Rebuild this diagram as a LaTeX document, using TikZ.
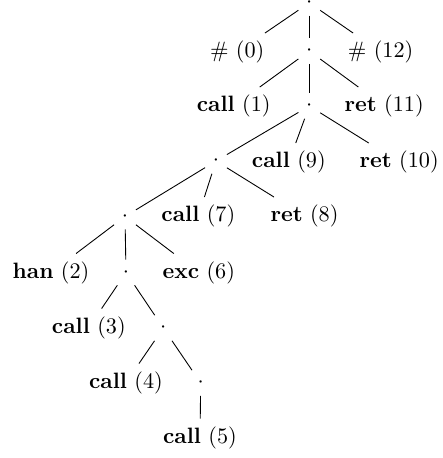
\documentclass[tikz,border=0pt]{standalone}
\begin{document}
\begin{tikzpicture}[x=0.45pt,y=-0.45pt,
  lbl/.style={inner sep=3.33pt},
  dotn/.style={inner sep=3.33pt},
  edge/.style={draw,line width=0.4pt}]
\useasboundingbox (0,0) rectangle (443,458);
% level 0
\node[dotn] (r) at (309.3,2.8) {$\cdot$};
% level 1
\node[lbl] (n0) at (237.2,52) {\# (0)};
\node[dotn] (d1) at (309.3,51) {$\cdot$};
\node[lbl] (n12) at (380.6,52) {\# (12)};
% level 2
\node[lbl] (c1) at (233.7,106) {\textbf{call} (1)};
\node[dotn] (d2) at (309.3,106) {$\cdot$};
\node[lbl] (r11) at (384.2,106) {\textbf{ret} (11)};
% level 3
\node[dotn] (d3) at (216,161) {$\cdot$};
\node[lbl] (c9) at (288.8,162) {\textbf{call} (9)};
\node[lbl] (r10) at (399.2,162) {\textbf{ret} (10)};
% level 4
\node[dotn] (d4) at (125,216.5) {$\cdot$};
\node[lbl] (c7) at (198.3,216) {\textbf{call} (7)};
\node[lbl] (r8) at (304.5,216) {\textbf{ret} (8)};
% level 5
\node[lbl] (h2) at (51,272.5) {\textbf{han} (2)};
\node[dotn] (d5) at (126,272.5) {$\cdot$};
\node[lbl] (e6) at (198.8,272.5) {\textbf{exc} (6)};
% level 6
\node[lbl] (c3) at (88.8,327.5) {\textbf{call} (3)};
\node[dotn] (d6) at (163.3,328) {$\cdot$};
% level 7
\node[lbl] (c4) at (126,382.5) {\textbf{call} (4)};
\node[dotn] (d7) at (200.7,383) {$\cdot$};
% level 8
\node[lbl] (c5) at (200,437.5) {\textbf{call} (5)};
% edges
\path[edge] (r) -- (n0);
\path[edge] (r) -- (d1);
\path[edge] (r) -- (n12);
\path[edge] (d1) -- (c1);
\path[edge] (d1) -- (d2);
\path[edge] (d1) -- (r11);
\path[edge] (d2) -- (d3);
\path[edge] (d2) -- (c9);
\path[edge] (d2) -- (r10);
\path[edge] (d3) -- (d4);
\path[edge] (d3) -- (c7);
\path[edge] (d3) -- (r8);
\path[edge] (d4) -- (h2);
\path[edge] (d4) -- (d5);
\path[edge] (d4) -- (e6);
\path[edge] (d5) -- (c3);
\path[edge] (d5) -- (d6);
\path[edge] (d6) -- (c4);
\path[edge] (d6) -- (d7);
\path[edge] (d7) -- (c5);
\end{tikzpicture}
\end{document}
